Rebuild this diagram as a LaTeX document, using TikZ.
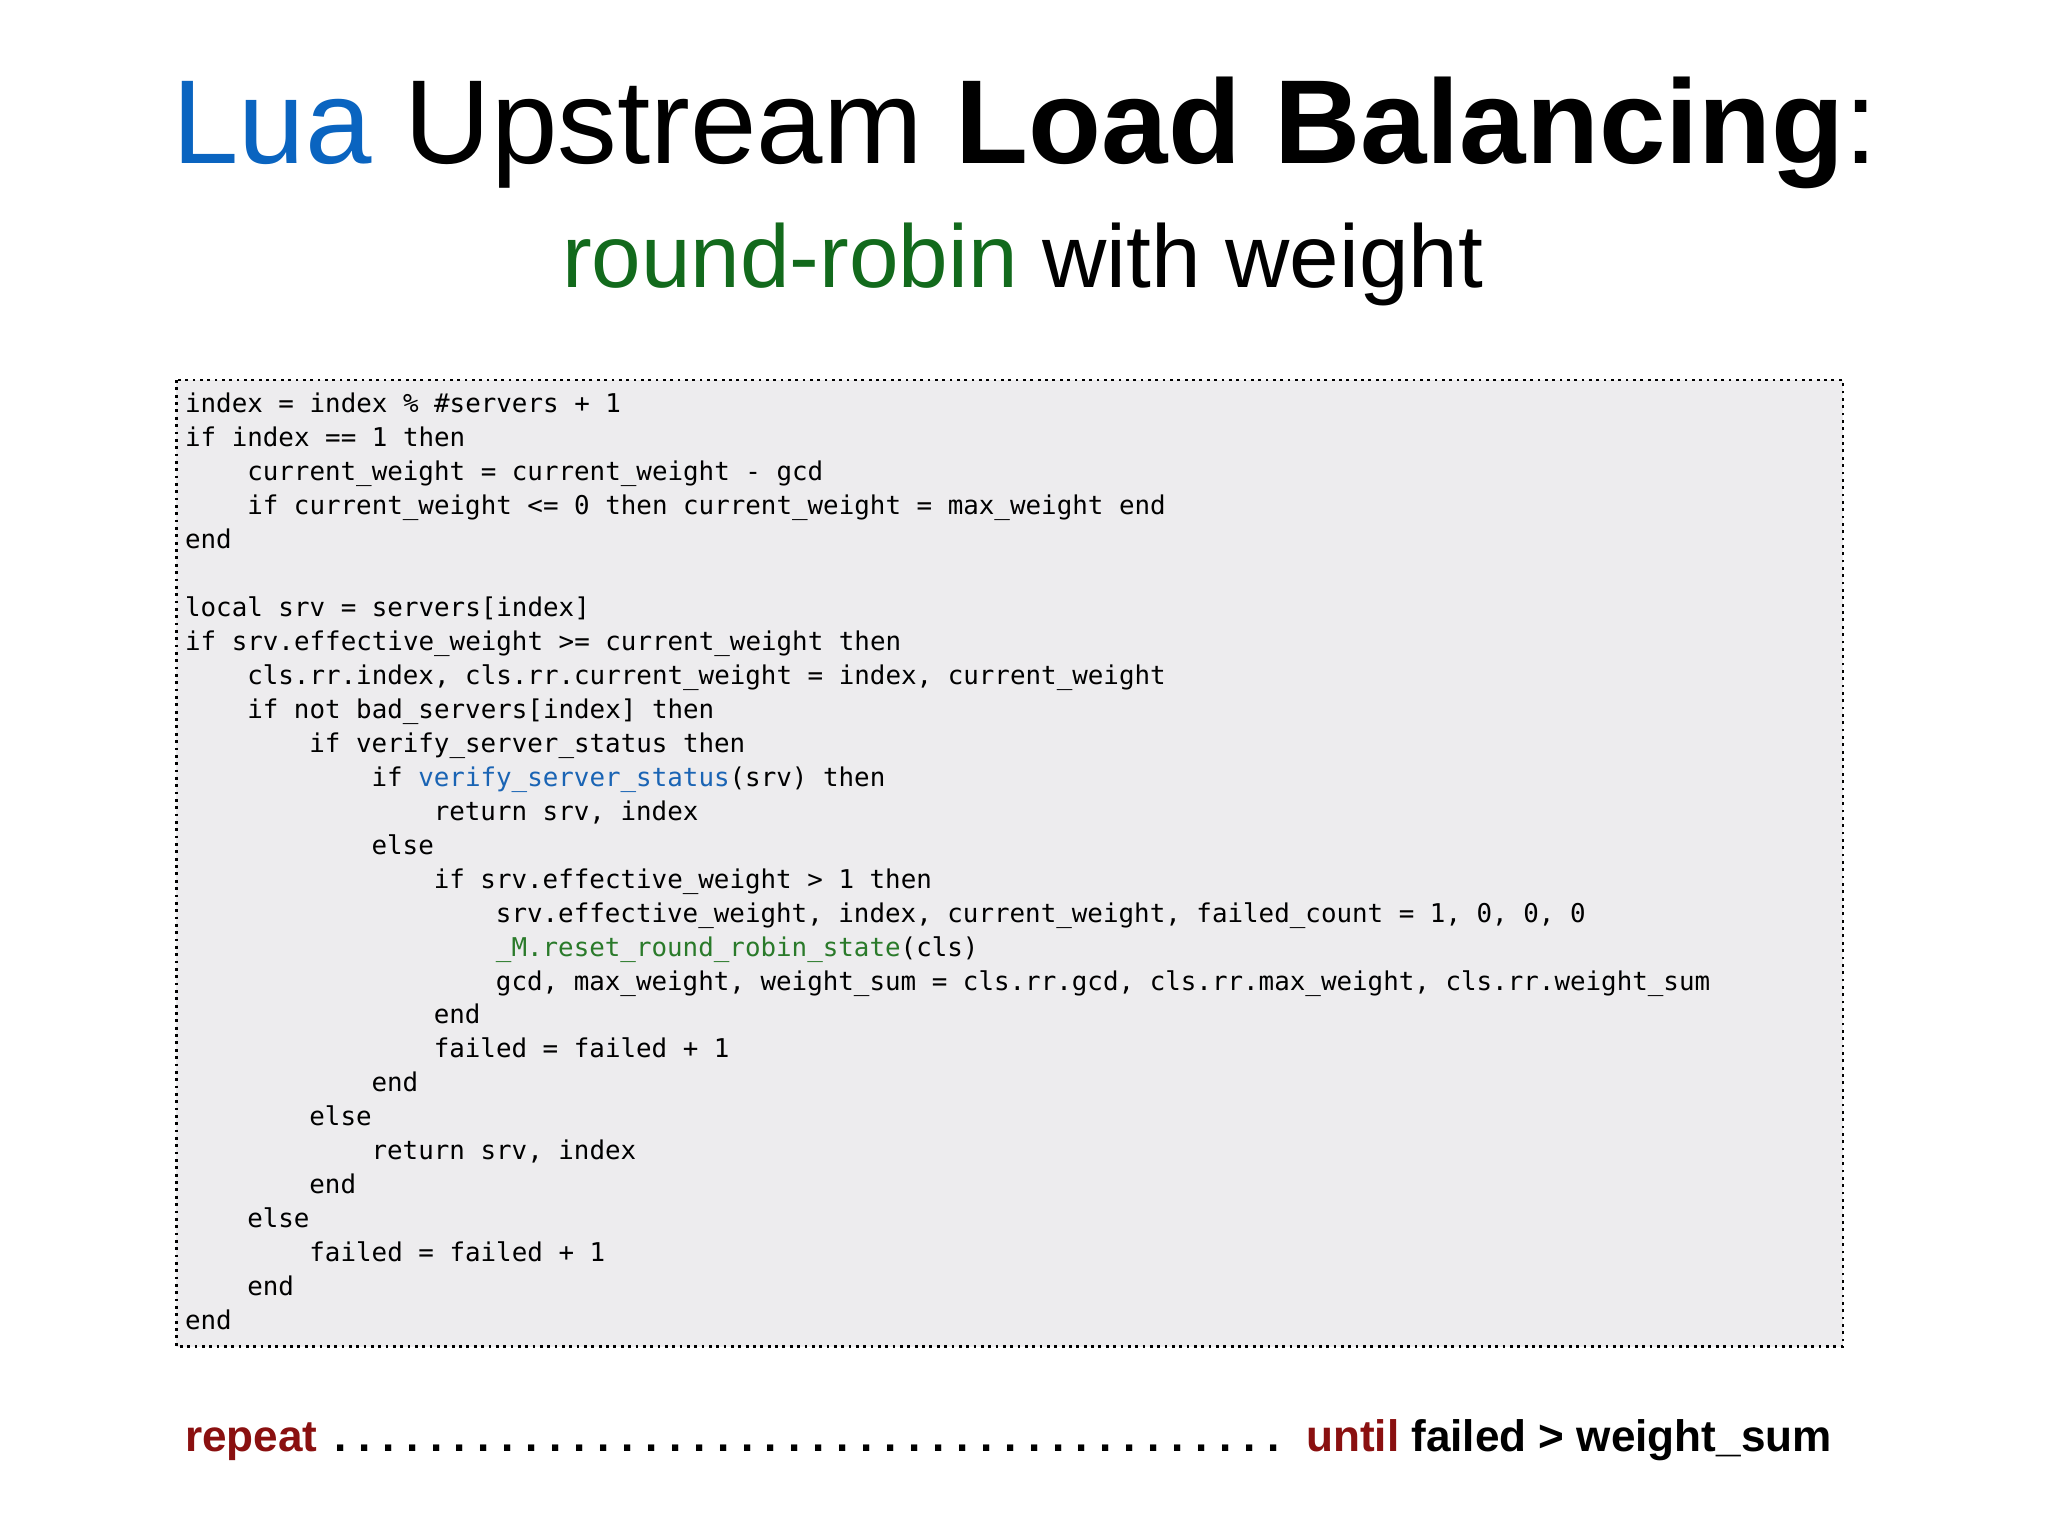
\documentclass[tikz,border=0pt]{standalone}
\usepackage{fontspec}
\setmainfont{Liberation Sans}
\setmonofont{DejaVu Sans Mono}
\definecolor{luablue}{HTML}{0A64C0}
\definecolor{rrgreen}{HTML}{126A1C}
\definecolor{fnblue}{HTML}{1A64B4}
\definecolor{fngreen}{HTML}{2A7A2A}
\definecolor{darkred}{HTML}{8A1010}
\definecolor{boxgray}{HTML}{EDECEE}
\begin{document}
\begin{tikzpicture}[x=0.01cm,y=-0.01cm,
  codeline/.style={anchor=base west,inner sep=0pt,font=\ttfamily\fontsize{5.63pt}{6pt}\selectfont}]
\useasboundingbox (0,0) rectangle (1568,1176);
\fill[white] (0,0) rectangle (1568,1176);
\node[anchor=base,inner sep=0pt,font=\fontsize{26pt}{28pt}\selectfont] (title) at (785,125)
 {\textcolor{luablue}{Lua} Upstream \textbf{Load Balancing}:};
\node[anchor=base,inner sep=0pt,font=\fontsize{19.4pt}{21pt}\selectfont] (sub) at (783,220)
 {\textcolor{rrgreen}{round-robin} with weight};
\draw[densely dotted,line width=0.6pt,fill=boxgray] (135,291) rectangle (1411,1031);
\def\ind{47.6}
\foreach \lv/\t [count=\i from 0] in {
0/{index = index \% \#servers + 1},
0/{if index == 1 then},
1/{current\_weight = current\_weight - gcd},
1/{if current\_weight <= 0 then current\_weight = max\_weight end},
0/{end},
0/{},
0/{local srv = servers[index]},
0/{if srv.effective\_weight >= current\_weight then},
1/{cls.rr.index, cls.rr.current\_weight = index, current\_weight},
1/{if not bad\_servers[index] then},
2/{if verify\_server\_status then},
3/{if \textcolor{fnblue}{verify\_server\_status}(srv) then},
4/{return srv, index},
3/{else},
4/{if srv.effective\_weight > 1 then},
5/{srv.effective\_weight, index, current\_weight, failed\_count = 1, 0, 0, 0},
5/{\textcolor{fngreen}{\_M.reset\_round\_robin\_state}(cls)},
5/{gcd, max\_weight, weight\_sum = cls.rr.gcd, cls.rr.max\_weight, cls.rr.weight\_sum},
4/{end},
4/{failed = failed + 1},
3/{end},
2/{else},
3/{return srv, index},
2/{end},
1/{else},
2/{failed = failed + 1},
1/{end},
0/{end}}
{\node[codeline] (l\i) at ({141+\lv*\ind},{316+\i*26}) {\t};}
\node[anchor=base west,inner sep=0pt,font=\bfseries\fontsize{9.6pt}{11pt}\selectfont] (rep) at (141,1111)
 {\makebox[12.6cm][s]{\textcolor{darkred}{repeat}\hspace{0.06cm}\leaders\hbox to 0.183cm{\hss.\hss}\hfill\hspace{0.04cm}\textcolor{darkred}{until} failed > weight\_sum}};
\end{tikzpicture}
\end{document}
